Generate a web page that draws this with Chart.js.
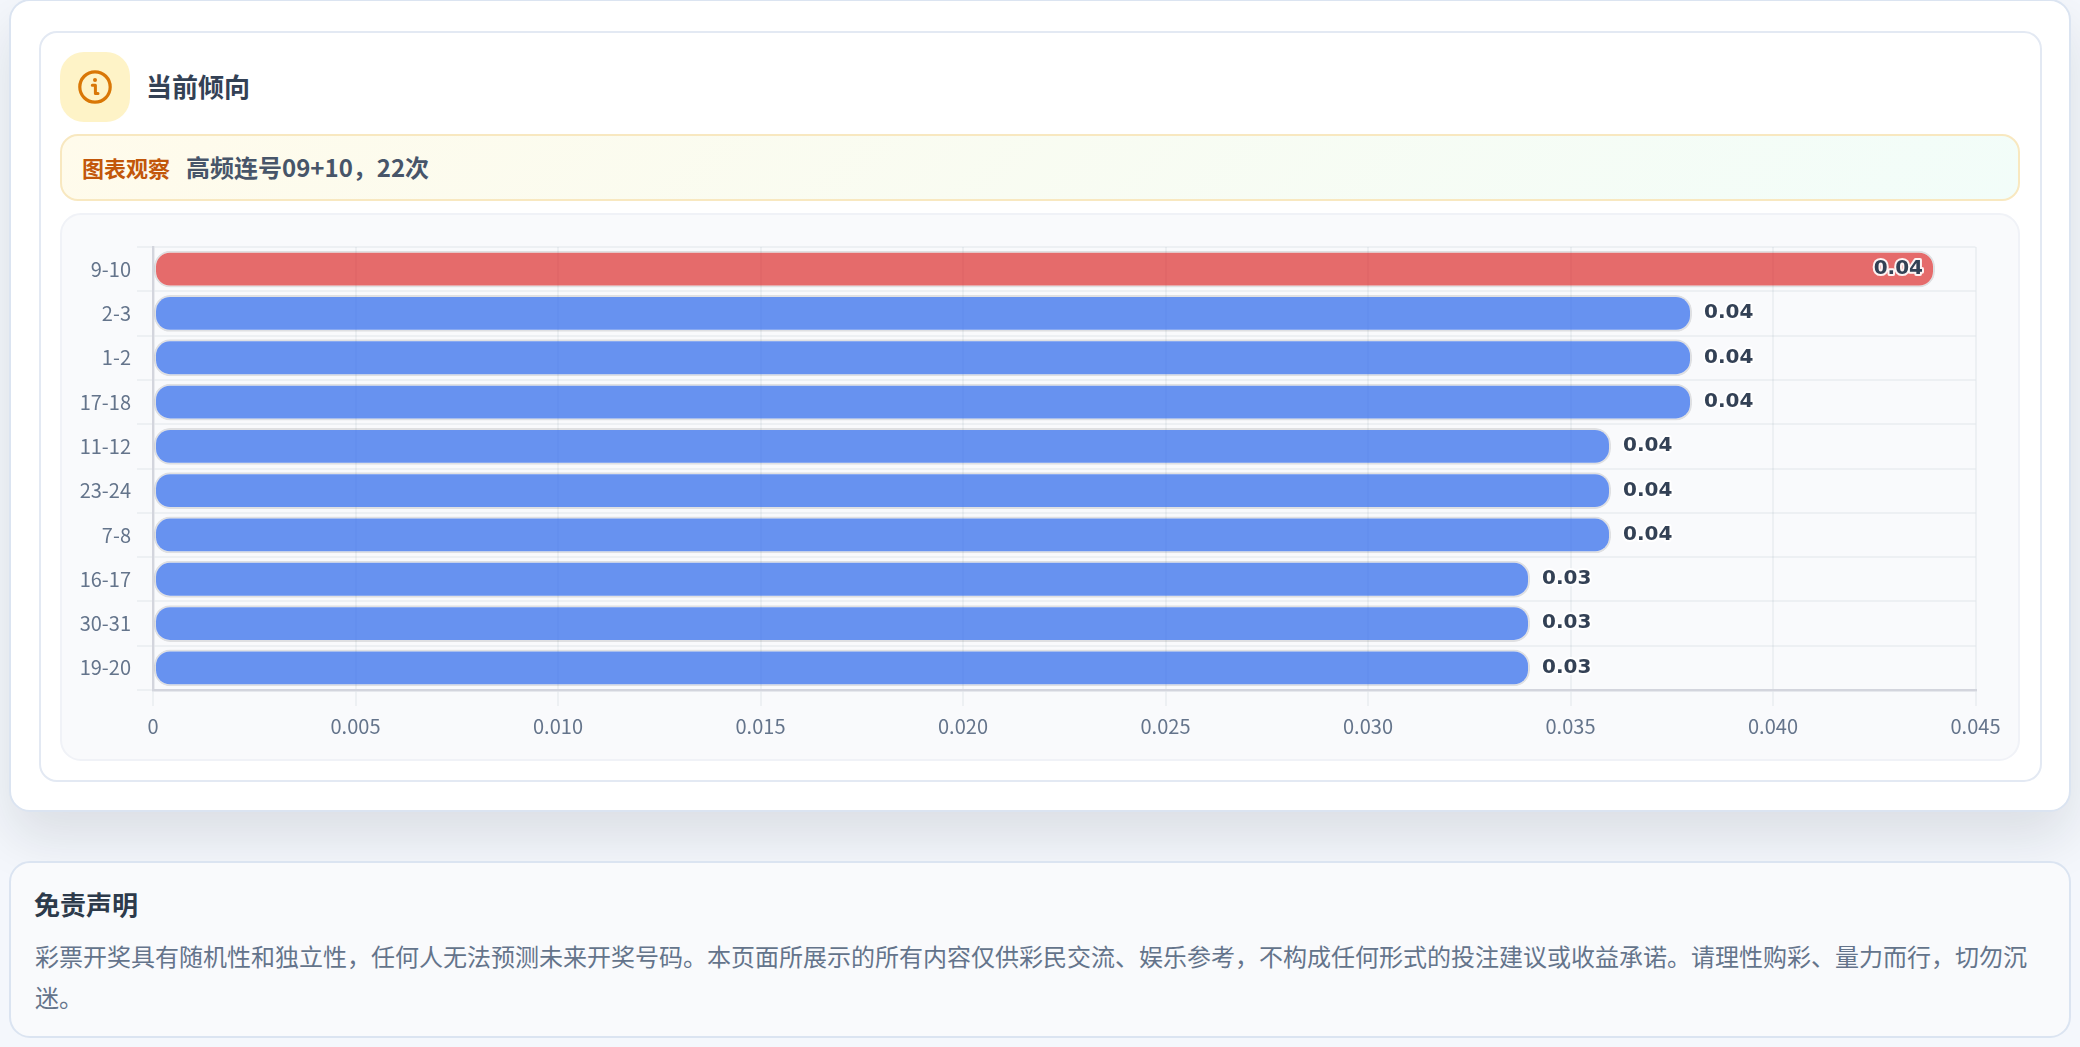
<!DOCTYPE html>
<html lang="zh-CN"><head><meta charset="utf-8">
<script src="https://cdn.jsdelivr.net/npm/chart.js@4"></script>
<style>
html,body{margin:0;padding:0;width:2080px;height:1047px;overflow:hidden;background:#f4f7fc;font-family:"Noto Sans CJK SC","Noto Sans",sans-serif;}
.abs{position:absolute;box-sizing:border-box;}
.txt{position:absolute;white-space:nowrap;}
</style></head><body>
<div class="abs" style="left:9px;top:-1px;width:2062px;height:813px;background:#fff;border:2.6px solid #dbe4f1;border-radius:21px;box-shadow:0 26px 53px rgba(20,28,40,.11)"></div>
<div class="abs" style="left:38.5px;top:30.5px;width:2003px;height:751.5px;background:#fff;border:2.2px solid #e3e9f3;border-radius:18px"></div>
<div class="abs" style="left:60px;top:52px;width:70px;height:70px;background:#fef3c7;border-radius:24px"></div>
<svg class="abs" style="left:75px;top:67px" width="40" height="40" viewBox="0 0 40 40" fill="none">
<circle cx="20" cy="20" r="15.2" stroke="#d97706" stroke-width="3.2"/>
<circle cx="20" cy="13" r="2" fill="#d97706"/>
<path d="M17.3 18.2H20.4V26.4H23" stroke="#d97706" stroke-width="3" stroke-linecap="round" stroke-linejoin="round"/>
</svg>
<div class="txt" style="left:146px;top:66px;line-height:40px;font-size:26px;font-weight:700;color:#334155">当前倾向</div>
<div class="abs" style="left:60px;top:134px;width:1960px;height:67px;border:2.2px solid #f8e8c0;border-radius:18px;background:linear-gradient(135deg,#fffbeb,#f2fdf9)"></div>
<div class="txt" style="left:82px;top:147px;line-height:40px;font-size:22px;font-weight:700;color:#c2570a">图表观察</div>
<div class="txt" style="left:186px;top:147px;line-height:40px;font-size:24px;font-weight:700;color:#475569">高频连号09+10，22次</div>
<div class="abs" style="left:60px;top:213px;width:1960px;height:547.5px;background:#f9fafc;border:2px solid #f0f2f7;border-radius:21px"></div>
<div class="abs" style="left:60px;top:213px;width:1960px;height:547px"><canvas id="c" style="display:block"></canvas></div>
<div class="abs" style="left:9px;top:861px;width:2062px;height:177px;background:#f9fafc;border:2.6px solid #dbe4f1;border-radius:21px"></div>
<div class="txt" style="left:34px;top:883.5px;line-height:40px;font-size:26px;font-weight:700;color:#2d3a4b">免责声明</div>
<div class="abs" style="left:35px;top:934.5px;width:2010px;font-size:24px;line-height:41px;color:#64748b">彩票开奖具有随机性和独立性，任何人无法预测未来开奖号码。本页面所展示的所有内容仅供彩民交流、娱乐参考，不构成任何形式的投注建议或收益承诺。请理性购彩、量力而行，切勿沉迷。</div>
<script>
const categories = ["9-10","2-3","1-2","17-18","11-12","23-24","7-8","16-17","30-31","19-20"];
const values = [0.044,0.038,0.038,0.038,0.036,0.036,0.036,0.034,0.034,0.034];
const highlightIndex = 0;
const axisMax = 0.045;
const axisStep = 0.005;
const tickFont = '"Noto Sans CJK SC","Noto Sans",sans-serif';

const valueLabels = {
  id:'valueLabels',
  afterDatasetsDraw(chart){
    const {ctx,chartArea} = chart;
    const meta = chart.getDatasetMeta(0);
    ctx.save();
    ctx.font = 'bold 20px "DejaVu Sans"';
    ctx.textBaseline = 'middle';
    ctx.lineJoin = 'round';
    meta.data.forEach((bar,i)=>{
      const t = values[i].toFixed(2);
      const w = ctx.measureText(t).width;
      const inside = bar.x + 14 + w + 12 > chartArea.right;
      const x = inside ? bar.x - 12 - w : bar.x + 12;
      const y = bar.y - 0.3;
      ctx.textAlign = 'left';
      ctx.lineWidth = 4;
      ctx.strokeStyle = 'rgba(255,255,255,0.92)';
      ctx.strokeText(t,x,y);
      ctx.fillStyle = '#334155';
      ctx.fillText(t,x,y);
    });
    ctx.restore();
  }
};

new Chart(document.getElementById('c'),{
  type:'bar',
  data:{labels:categories,datasets:[{
    data:values,
    backgroundColor:values.map((v,i)=>i===highlightIndex?'rgba(220,38,38,0.68)':'rgba(37,99,235,0.69)'),
    borderColor:'rgba(0,0,0,0.1)',
    borderWidth:2,
    borderSkipped:false,
    borderRadius:16,
    categoryPercentage:1,
    barPercentage:0.83
  }]},
  options:{
    indexAxis:'y',responsive:true,maintainAspectRatio:false,animation:false,devicePixelRatio:1,
    layout:{padding:{top:34,right:44.5,left:0,bottom:0}},
    plugins:{legend:{display:false},tooltip:{enabled:false}},
    scales:{
      x:{min:0,max:axisMax,ticks:{stepSize:axisStep,color:'#64748b',font:{family:tickFont,size:20},padding:8,maxRotation:0},
        grid:{color:'rgba(100,116,139,0.075)',lineWidth:2,tickLength:16},
        border:{color:'#d3d5dd',width:2.4},
        afterFit(s){s.height=70;}},
      y:{ticks:{color:'#64748b',font:{family:tickFont,size:20},padding:6},
        grid:{color:'rgba(100,116,139,0.075)',lineWidth:2,tickLength:16},
        border:{color:'#d3d5dd',width:2.4},
        afterFit(s){s.width=93;}}
    }
  },
  plugins:[valueLabels]
});
</script>
</body></html>
